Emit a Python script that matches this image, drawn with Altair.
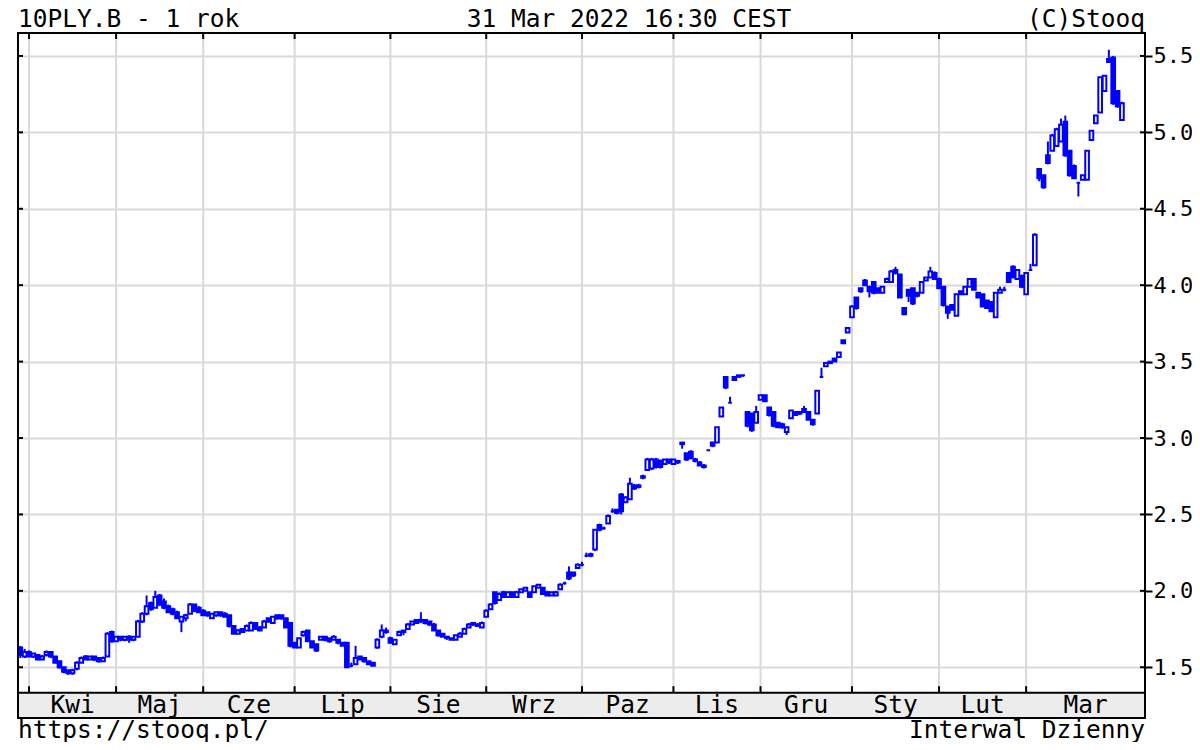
import altair as alt
import pandas as pd

FONT = "DejaVu Sans Mono"
BLUE = "#0000ff"
GRID = "#d9d9d9"

# ---- header / footer texts ----
title_left = "10PLY.B - 1 rok"
title_mid = "31 Mar 2022 16:30 CEST"
title_right = "(C)Stooq"
foot_left = "https://stooq.pl/"
foot_right = "Interwal Dzienny"

# ---- daily candles (open, high, low, close), trading-day order ----
mar21 = [(1.63, 1.64, 1.56, 1.58), (1.57, 1.62, 1.56, 1.60)]
apr = [(1.60, 1.61, 1.57, 1.57), (1.57, 1.59, 1.56, 1.59), (1.58, 1.58, 1.55, 1.55),
       (1.55, 1.58, 1.55, 1.57), (1.58, 1.61, 1.57, 1.60), (1.60, 1.60, 1.56, 1.57),
       (1.57, 1.57, 1.53, 1.53), (1.54, 1.54, 1.49, 1.50), (1.50, 1.50, 1.46, 1.47),
       (1.48, 1.48, 1.45, 1.46), (1.46, 1.49, 1.45, 1.48), (1.49, 1.54, 1.48, 1.53),
       (1.53, 1.57, 1.53, 1.56), (1.57, 1.58, 1.55, 1.55), (1.55, 1.57, 1.55, 1.57),
       (1.57, 1.57, 1.54, 1.55), (1.56, 1.56, 1.53, 1.54), (1.54, 1.57, 1.54, 1.56),
       (1.57, 1.73, 1.57, 1.72), (1.73, 1.74, 1.66, 1.67)]
may = [(1.67, 1.70, 1.67, 1.70), (1.70, 1.70, 1.67, 1.68), (1.68, 1.70, 1.67, 1.70),
       (1.70, 1.71, 1.66, 1.68), (1.68, 1.70, 1.67, 1.70), (1.70, 1.81, 1.70, 1.80),
       (1.80, 1.86, 1.79, 1.85), (1.85, 1.97, 1.84, 1.90), (1.92, 1.93, 1.87, 1.88),
       (1.89, 2.00, 1.89, 1.96), (1.97, 1.98, 1.90, 1.91), (1.93, 1.95, 1.88, 1.89),
       (1.90, 1.91, 1.86, 1.86), (1.88, 1.89, 1.84, 1.85), (1.86, 1.87, 1.82, 1.82),
       (1.80, 1.83, 1.73, 1.83), (1.82, 1.85, 1.80, 1.84), (1.85, 1.92, 1.85, 1.91),
       (1.91, 1.91, 1.86, 1.87), (1.89, 1.90, 1.86, 1.86)]
jun = [(1.87, 1.88, 1.84, 1.84), (1.86, 1.86, 1.83, 1.84), (1.82, 1.85, 1.82, 1.85),
       (1.84, 1.86, 1.83, 1.86), (1.86, 1.86, 1.83, 1.84), (1.85, 1.86, 1.83, 1.83),
       (1.84, 1.84, 1.76, 1.77), (1.77, 1.77, 1.72, 1.72), (1.72, 1.75, 1.72, 1.74),
       (1.75, 1.75, 1.73, 1.73), (1.74, 1.78, 1.74, 1.77), (1.74, 1.80, 1.74, 1.79),
       (1.79, 1.79, 1.75, 1.75), (1.76, 1.77, 1.74, 1.74), (1.76, 1.81, 1.76, 1.80),
       (1.82, 1.82, 1.79, 1.80), (1.79, 1.83, 1.79, 1.83), (1.84, 1.84, 1.81, 1.82),
       (1.84, 1.84, 1.81, 1.82), (1.82, 1.82, 1.76, 1.76), (1.79, 1.79, 1.63, 1.64)]
jul = [(1.66, 1.66, 1.63, 1.63), (1.63, 1.69, 1.63, 1.69), (1.71, 1.74, 1.70, 1.73),
       (1.74, 1.74, 1.67, 1.67), (1.67, 1.67, 1.63, 1.63), (1.65, 1.65, 1.60, 1.61),
       (1.68, 1.70, 1.68, 1.70), (1.70, 1.70, 1.67, 1.68), (1.69, 1.69, 1.66, 1.67),
       (1.68, 1.71, 1.68, 1.70), (1.68, 1.68, 1.65, 1.66), (1.66, 1.66, 1.64, 1.64),
       (1.66, 1.66, 1.50, 1.50), (1.51, 1.53, 1.50, 1.51), (1.52, 1.64, 1.52, 1.56),
       (1.57, 1.57, 1.55, 1.55), (1.56, 1.56, 1.53, 1.54), (1.54, 1.54, 1.52, 1.52),
       (1.53, 1.53, 1.51, 1.51), (1.63, 1.69, 1.62, 1.68), (1.70, 1.78, 1.69, 1.74),
       (1.74, 1.76, 1.72, 1.73)]
aug = [(1.69, 1.70, 1.66, 1.66), (1.65, 1.68, 1.65, 1.68), (1.71, 1.74, 1.71, 1.73),
       (1.74, 1.74, 1.71, 1.73), (1.75, 1.79, 1.75, 1.78), (1.78, 1.80, 1.78, 1.80),
       (1.81, 1.81, 1.79, 1.79), (1.80, 1.86, 1.79, 1.81), (1.81, 1.81, 1.78, 1.79),
       (1.80, 1.80, 1.77, 1.78), (1.78, 1.79, 1.74, 1.74), (1.74, 1.74, 1.70, 1.71),
       (1.72, 1.72, 1.70, 1.70), (1.70, 1.70, 1.68, 1.69), (1.69, 1.69, 1.68, 1.68),
       (1.68, 1.71, 1.68, 1.71), (1.70, 1.73, 1.70, 1.72), (1.72, 1.76, 1.72, 1.75),
       (1.76, 1.79, 1.76, 1.78), (1.79, 1.79, 1.77, 1.78), (1.78, 1.79, 1.77, 1.77),
       (1.76, 1.80, 1.76, 1.79)]
sep = [(1.83, 1.88, 1.83, 1.87), (1.88, 1.92, 1.88, 1.91), (1.99, 1.99, 1.91, 1.92),
       (1.94, 1.99, 1.94, 1.98), (1.99, 2.00, 1.96, 1.96), (1.96, 1.99, 1.96, 1.99),
       (1.99, 1.99, 1.96, 1.96), (1.96, 2.00, 1.96, 1.99), (1.99, 2.01, 1.99, 2.01),
       (2.00, 2.02, 2.00, 2.02), (1.99, 1.99, 1.96, 1.96), (1.99, 2.03, 1.99, 2.03),
       (2.02, 2.04, 2.02, 2.04), (2.02, 2.02, 1.98, 1.98), (1.99, 2.00, 1.97, 1.97),
       (1.97, 1.99, 1.97, 1.99), (1.97, 2.00, 1.97, 1.99), (2.01, 2.05, 2.01, 2.04),
       (2.05, 2.06, 2.04, 2.05), (2.12, 2.16, 2.07, 2.08), (2.12, 2.12, 2.09, 2.10),
       (2.15, 2.18, 2.15, 2.17)]
oct_ = [(2.17, 2.19, 2.16, 2.17), (2.23, 2.25, 2.22, 2.23), (2.23, 2.25, 2.22, 2.24),
        (2.27, 2.40, 2.26, 2.40), (2.43, 2.44, 2.39, 2.40), (2.41, 2.42, 2.40, 2.41),
        (2.44, 2.50, 2.44, 2.49), (2.52, 2.54, 2.51, 2.52), (2.53, 2.53, 2.50, 2.51),
        (2.63, 2.64, 2.50, 2.52), (2.58, 2.62, 2.58, 2.61), (2.60, 2.74, 2.60, 2.70),
        (2.69, 2.70, 2.66, 2.67), (2.68, 2.70, 2.67, 2.69), (2.74, 2.76, 2.73, 2.75),
        (2.79, 2.87, 2.79, 2.86), (2.80, 2.87, 2.79, 2.86), (2.86, 2.87, 2.80, 2.81),
        (2.85, 2.86, 2.80, 2.81), (2.83, 2.86, 2.83, 2.86), (2.86, 2.86, 2.83, 2.84)]
nov = [(2.83, 2.86, 2.83, 2.86), (2.84, 2.85, 2.83, 2.85), (2.97, 2.97, 2.93, 2.96),
       (2.90, 2.90, 2.85, 2.86), (2.91, 2.92, 2.86, 2.87), (2.86, 2.87, 2.84, 2.85),
       (2.84, 2.85, 2.82, 2.82), (2.82, 2.83, 2.80, 2.81), (2.92, 2.92, 2.92, 2.92),
       (2.97, 2.97, 2.94, 2.95), (2.97, 3.07, 2.97, 3.07), (3.14, 3.20, 3.14, 3.20),
       (3.40, 3.40, 3.32, 3.33), (3.23, 3.27, 3.23, 3.23), (3.40, 3.40, 3.38, 3.38),
       (3.40, 3.41, 3.40, 3.41), (3.41, 3.41, 3.40, 3.41), (3.17, 3.17, 3.07, 3.08),
       (3.16, 3.16, 3.04, 3.05), (3.10, 3.21, 3.10, 3.17)]
dec = [(3.25, 3.28, 3.25, 3.28), (3.28, 3.28, 3.24, 3.24), (3.20, 3.20, 3.14, 3.15),
       (3.17, 3.17, 3.07, 3.08), (3.10, 3.10, 3.07, 3.07), (3.09, 3.10, 3.06, 3.07),
       (3.04, 3.07, 3.02, 3.07), (3.13, 3.18, 3.13, 3.18), (3.17, 3.17, 3.15, 3.15),
       (3.17, 3.17, 3.15, 3.16), (3.19, 3.21, 3.17, 3.17), (3.17, 3.17, 3.12, 3.12),
       (3.12, 3.12, 3.08, 3.09), (3.16, 3.31, 3.16, 3.31), (3.40, 3.46, 3.40, 3.40),
       (3.47, 3.49, 3.47, 3.49), (3.49, 3.50, 3.49, 3.50), (3.52, 3.52, 3.50, 3.50),
       (3.53, 3.56, 3.53, 3.56), (3.64, 3.64, 3.62, 3.62), (3.69, 3.72, 3.69, 3.72)]
jan = [(3.79, 3.87, 3.79, 3.86), (3.92, 3.92, 3.84, 3.85), (3.98, 3.98, 3.95, 3.96),
       (4.03, 4.04, 4.00, 4.00), (3.99, 3.99, 3.92, 3.96), (4.02, 4.02, 3.94, 3.95),
       (3.98, 3.98, 3.95, 3.95), (3.95, 3.99, 3.95, 3.99), (4.02, 4.05, 4.02, 4.04),
       (4.02, 4.10, 4.02, 4.09), (4.10, 4.12, 4.07, 4.08), (4.07, 4.07, 3.92, 3.92),
       (3.85, 3.85, 3.81, 3.81), (3.97, 3.97, 3.89, 3.93), (3.98, 3.98, 3.87, 3.88),
       (3.95, 3.95, 3.92, 3.93), (3.95, 4.02, 3.95, 4.02), (4.03, 4.05, 4.03, 4.05),
       (4.05, 4.12, 4.05, 4.09), (4.08, 4.09, 4.04, 4.04)]
feb = [(4.04, 4.05, 3.98, 3.98), (3.99, 3.99, 3.86, 3.87), (3.86, 3.86, 3.78, 3.82),
       (3.87, 3.87, 3.84, 3.84), (3.80, 3.94, 3.80, 3.94), (3.96, 3.96, 3.94, 3.94),
       (3.94, 3.99, 3.94, 3.99), (3.99, 4.04, 3.99, 4.04), (4.04, 4.04, 3.97, 3.97),
       (3.95, 3.95, 3.92, 3.92), (3.94, 3.94, 3.86, 3.86), (3.90, 3.90, 3.85, 3.85),
       (3.89, 3.89, 3.83, 3.83), (3.79, 3.95, 3.79, 3.95), (3.95, 3.99, 3.95, 3.97),
       (3.97, 3.99, 3.96, 3.97), (4.08, 4.08, 4.02, 4.02), (4.12, 4.13, 4.05, 4.05),
       (4.04, 4.10, 4.04, 4.10), (4.06, 4.07, 3.98, 3.99)]
mar22 = [(3.94, 4.08, 3.94, 4.08), (4.10, 4.14, 4.10, 4.10), (4.13, 4.34, 4.13, 4.33),
         (4.76, 4.76, 4.68, 4.70), (4.72, 4.72, 4.63, 4.64), (4.85, 4.94, 4.79, 4.80),
         (4.88, 4.99, 4.88, 4.98), (4.91, 5.03, 4.91, 5.02), (4.94, 5.09, 4.94, 5.05),
         (5.07, 5.11, 4.84, 4.85), (4.88, 4.88, 4.71, 4.72), (4.78, 4.79, 4.70, 4.70),
         (4.67, 4.67, 4.58, 4.67), (4.69, 4.72, 4.69, 4.72), (4.69, 4.88, 4.69, 4.88),
         (4.95, 5.01, 4.95, 5.01), (5.06, 5.11, 5.06, 5.11), (5.13, 5.36, 5.13, 5.36),
         (5.27, 5.37, 5.27, 5.37), (5.48, 5.54, 5.46, 5.46), (5.49, 5.50, 5.18, 5.19),
         (5.27, 5.27, 5.16, 5.17), (5.08, 5.20, 5.08, 5.19)]

# ---- axes ----
month_names = ["Kwi", "Maj", "Cze", "Lip", "Sie", "Wrz", "Paz", "Lis", "Gru", "Sty", "Lut", "Mar"]
month_start = [2, 22, 42, 63, 85, 107, 129, 150, 170, 191, 211, 231]   # trading-day index
y_ticks = [1.5, 2.0, 2.5, 3.0, 3.5, 4.0, 4.5, 5.0, 5.5]

X_MIN, X_MAX = -0.53, 258.3
Y_MIN, Y_MAX = 1.168, 5.65
BAND_TOP = 1.3335
PX_Y = (Y_MAX - Y_MIN) / 685.0
PX_X = (X_MAX - X_MIN) / 1127.0

candles = mar21 + apr + may + jun + jul + aug + sep + oct_ + nov + dec + jan + feb + mar22
rows = []
for i, (o, h, l, c) in enumerate(candles):
    rows.append(dict(i=i, lo=i - 0.42, hi=i + 0.42, o=o, h=h, l=l, c=c,
                     fill="#ffffff" if c >= o else BLUE))
df = pd.DataFrame(rows)

xs = alt.Scale(domain=[X_MIN, X_MAX], nice=False, zero=False)
ys = alt.Scale(domain=[Y_MIN, Y_MAX], nice=False, zero=False)
Y_AXIS = alt.Axis(orient="right", values=y_ticks, format=".1f", title=None, grid=True,
                  gridColor=GRID, gridWidth=2, domain=False, tickColor="black",
                  tickWidth=2, tickSize=7, labelFont=FONT, labelFontSize=22,
                  labelColor="black", labelPadding=1)


def X(f):
    return alt.X(f, type="quantitative", scale=xs, axis=None)


def Y(f):
    return alt.Y(f, type="quantitative", scale=ys, axis=Y_AXIS)


bounds = month_start + [X_MAX]
mdf = pd.DataFrame({
    "m": month_names,
    "x": month_start,
    "mid": [(bounds[k] + bounds[k + 1]) / 2 for k in range(len(month_names))],
    "y0": [BAND_TOP] * 12, "y1": [Y_MAX] * 12,
    "tb": [BAND_TOP + 6.5 * PX_Y] * 12, "tt": [Y_MAX - 6 * PX_Y] * 12,
    "ly": [BAND_TOP - 20.2 * PX_Y] * 12,
})

vgrid = alt.Chart(mdf).mark_rule(color=GRID, strokeWidth=2).encode(
    x=X("x"), y=Y("y0"), y2="y1")

band_df = pd.DataFrame({"x0": [X_MIN], "x1": [X_MAX], "y0": [Y_MIN], "y1": [BAND_TOP]})
band = alt.Chart(band_df).mark_rect(fill="#ececec").encode(
    x=X("x0"), x2="x1", y=Y("y0"), y2="y1")
band_line = alt.Chart(band_df).mark_rule(color="black", strokeWidth=2).encode(
    x=X("x0"), x2="x1", y=Y("y1"))

wicks = alt.Chart(df).mark_rule(color=BLUE, strokeWidth=2).encode(
    x=X("i"), y=Y("l"), y2="h")
bodies = alt.Chart(df).mark_rect(stroke=BLUE, strokeWidth=2).encode(
    x=X("lo"), x2="hi", y=Y("o"), y2="c", fill=alt.Fill("fill:N", scale=None))

tick_bot = alt.Chart(mdf).mark_rule(color="black", strokeWidth=2).encode(
    x=X("x"), y=Y("y0"), y2="tb")
tick_top = alt.Chart(mdf).mark_rule(color="black", strokeWidth=2).encode(
    x=X("x"), y=Y("y1"), y2="tt")

ydf = pd.DataFrame({"v": y_ticks, "a": [X_MIN] * 9, "b": [X_MIN + 5 * PX_X] * 9,
                    "c": [X_MAX - 5 * PX_X] * 9, "d": [X_MAX] * 9})
tick_left = alt.Chart(ydf).mark_rule(color="black", strokeWidth=2).encode(
    x=X("a"), x2="b", y=Y("v"))
tick_right = alt.Chart(ydf).mark_rule(color="black", strokeWidth=2).encode(
    x=X("c"), x2="d", y=Y("v"))

month_text = alt.Chart(mdf).mark_text(font=FONT, fontSize=24.5, color="black",
                                      baseline="alphabetic", align="center").encode(
    x=X("mid"), y=Y("ly"), text="m:N")

border_df = pd.DataFrame({"x0": [X_MIN], "x1": [X_MAX], "y0": [Y_MIN], "y1": [Y_MAX]})
border = alt.Chart(border_df).mark_rect(fillOpacity=0, stroke="black", strokeWidth=2).encode(
    x=X("x0"), x2="x1", y=Y("y0"), y2="y1")


def label(txt, px, py, align):
    return alt.Chart(pd.DataFrame({"t": [txt]})).mark_text(
        font=FONT, fontSize=24.5, color="black", align=align, baseline="alphabetic"
    ).encode(x=alt.value(px), y=alt.value(py), text="t:N")


texts = [
    label(title_left, 0, -6.5, "left"),
    label(title_mid, 611, -6.5, "center"),
    label(title_right, 1127, -6.5, "right"),
    label(foot_left, 0, 705, "left"),
    label(foot_right, 1127, 705, "right"),
]

chart = alt.layer(
    vgrid, wicks, bodies, band, band_line, tick_bot, tick_top, tick_left, tick_right,
    month_text, border, *texts
).properties(
    width=1127, height=685,
    padding={"left": 10, "top": 25, "right": 47, "bottom": 24},
    autosize=alt.AutoSizeParams(type="none"),
    background="white",
).configure_view(stroke=None)

chart.save("out.html", embed_options={"renderer": "svg", "actions": False})
